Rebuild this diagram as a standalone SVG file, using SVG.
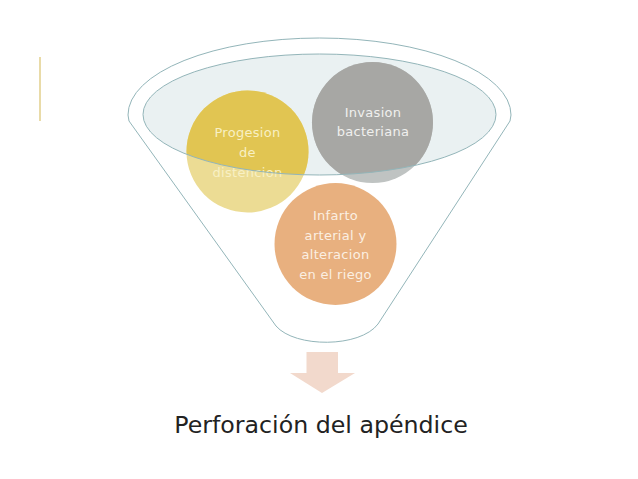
<svg xmlns="http://www.w3.org/2000/svg" width="638" height="479" viewBox="0 0 638 479">
  <style>
    .lbl { font-family: "DejaVu Sans", "Liberation Sans", sans-serif; font-size: 13px; letter-spacing: 0.3px; text-anchor: middle; }
    .funnel { fill: none; stroke: #93b5b9; stroke-width: 1; }
    .title { font-family: "DejaVu Sans", "Liberation Sans", sans-serif; font-size: 23.7px; fill: #222222; text-anchor: middle; }
  </style>
  <defs>
    <clipPath id="topClip">
      <ellipse cx="319.5" cy="114.5" rx="176.5" ry="60.5"/>
    </clipPath>
  </defs>
  <rect width="638" height="479" fill="#ffffff"/>
  <line x1="40" y1="57" x2="40" y2="121" stroke="#e9dba8" stroke-width="2"/>

  <g id="funnel">
    <path class="funnel" d="M 276,326 L 129,121 L 128,115 A 191.5,77 0 0 1 511,115 L 510,121 L 378,324 C 360,348 295,348 276,326 Z"/>
    <ellipse cx="319.5" cy="114.5" rx="176.5" ry="60.5" fill="#eaf1f2"/>
  </g>

  <g id="node-progesion">
    <circle cx="247.5" cy="151.5" r="61" fill="#ecdc94"/>
    <circle cx="247.5" cy="151.5" r="61" fill="#e1c552" clip-path="url(#topClip)"/>
    <text class="lbl" fill="#f8f0c4"><tspan x="247.5" y="137">Progesion</tspan><tspan x="247.5" y="157">de</tspan><tspan x="247.5" y="176.5">distencion</tspan></text>
  </g>

  <g id="node-invasion">
    <circle cx="372.5" cy="122.5" r="60.5" fill="#bfc3c2"/>
    <circle cx="372.5" cy="122.5" r="60.5" fill="#a7a7a4" clip-path="url(#topClip)"/>
    <text class="lbl" fill="#f0f0ee"><tspan x="373" y="116.5">Invasion</tspan><tspan x="373" y="135.5">bacteriana</tspan></text>
  </g>

  <g id="node-infarto">
    <circle cx="335.5" cy="244" r="61" fill="#e8b07f"/>
    <text class="lbl" fill="#fbefe2"><tspan x="335.5" y="220">Infarto</tspan><tspan x="335.5" y="239.5">arterial y</tspan><tspan x="335.5" y="259">alteracion</tspan><tspan x="335.5" y="278.5">en el riego</tspan></text>
  </g>

  <ellipse cx="319.5" cy="114.5" rx="176.5" ry="60.5" class="funnel"/>

  <g id="connectors">
    <path d="M 306.5,352 L 338,352 L 338,373 L 355,373 L 322,393 L 290,373 L 306.5,373 Z" fill="#f2d9cc"/>
  </g>

  <g id="node-result">
    <text class="title" x="321" y="433">Perforación del apéndice</text>
  </g>
</svg>
